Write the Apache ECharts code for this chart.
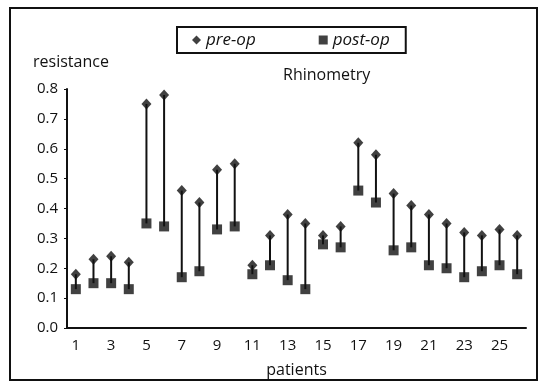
<!DOCTYPE html>
<html>
<head>
<meta charset="utf-8">
<script src="https://cdn.jsdelivr.net/npm/echarts@6/dist/echarts.min.js"></script>
<style>
  html, body { margin: 0; padding: 0; background: #fff; }
  #chart { width: 541px; height: 383px; }
</style>
</head>
<body>
<div id="chart"></div>
<script>
// patients 1..26
const patients = Array.from({ length: 26 }, (_, i) => String(i + 1))
const preOp = [0.18, 0.23, 0.24, 0.22, 0.75, 0.78, 0.46, 0.42, 0.53, 0.55, 0.21, 0.31, 0.38,
  0.35, 0.31, 0.34, 0.62, 0.58, 0.45, 0.41, 0.38, 0.35, 0.32, 0.31, 0.33, 0.31]
const postOp = [0.13, 0.15, 0.15, 0.13, 0.35, 0.34, 0.17, 0.19, 0.33, 0.34, 0.18, 0.21, 0.16,
  0.13, 0.28, 0.27, 0.46, 0.42, 0.26, 0.27, 0.21, 0.20, 0.17, 0.19, 0.21, 0.18]

const ink = '#111'
const font = 'Open Sans'

const chart = echarts.init(document.getElementById('chart'))

const option = {
  backgroundColor: '#fff',
  animation: false,
  textStyle: { fontFamily: font, color: ink },
  title: [
    {
      text: 'Rhinometry',
      left: 283,
      top: 67,
      padding: 0,
      textStyle: { fontFamily: font, fontSize: 16, fontWeight: 'normal', color: ink },
    },
    {
      text: 'resistance',
      left: 33,
      top: 54,
      padding: 0,
      textStyle: { fontFamily: font, fontSize: 16, fontWeight: 'normal', color: ink },
    },
  ],
  graphic: [
    {
      type: 'rect',
      shape: { x: 10, y: 8, width: 527, height: 372 },
      style: { fill: 'none', stroke: ink, lineWidth: 2 },
      silent: true,
    },
  ],
  legend: {
    left: 177,
    top: 27,
    padding: [3, 16, 3, 15],
    borderColor: ink,
    borderWidth: 2,
    itemWidth: 9,
    itemHeight: 9,
    itemGap: 63,
    data: [
      { name: 'pre-op', icon: 'diamond' },
      { name: 'post-op', icon: 'rect' },
    ],
    textStyle: { fontFamily: font, fontSize: 17, lineHeight: 20, fontStyle: 'italic', color: ink },
  },
  grid: { left: 67, right: 15, top: 89, bottom: 54 },
  xAxis: {
    type: 'category',
    data: patients,
    name: 'patients',
    nameLocation: 'middle',
    nameGap: 34,
    nameTextStyle: { fontFamily: font, fontSize: 16, color: ink },
    axisLine: { lineStyle: { color: ink, width: 2 } },
    axisTick: { inside: true, length: 3, interval: 0, lineStyle: { color: ink } },
    axisLabel: { interval: 1, margin: 10, fontFamily: font, fontSize: 15, color: ink },
    splitLine: { show: false },
  },
  yAxis: {
    type: 'value',
    min: 0,
    max: 0.8,
    interval: 0.1,
    axisLine: { show: true, lineStyle: { color: ink, width: 2 } },
    axisTick: { show: true, length: 3, lineStyle: { color: ink } },
    axisLabel: {
      margin: 9,
      fontFamily: font,
      fontSize: 15,
      color: ink,
      formatter: (v) => v.toFixed(1),
    },
    splitLine: { show: false },
  },
  series: [
    {
      name: 'change',
      type: 'custom',
      silent: true,
      data: patients.map((p, i) => [i, preOp[i], postOp[i]]),
      renderItem: function (params, api) {
        const a = api.coord([api.value(0), api.value(1)])
        const b = api.coord([api.value(0), api.value(2)])
        return {
          type: 'line',
          shape: { x1: a[0], y1: a[1], x2: b[0], y2: b[1] },
          style: { stroke: ink, lineWidth: 2 },
        }
      },
      z: 1,
    },
    {
      name: 'pre-op',
      type: 'scatter',
      data: preOp,
      symbol: 'diamond',
      symbolSize: [10, 11],
      itemStyle: { color: ink },
      z: 3,
    },
    {
      name: 'post-op',
      type: 'scatter',
      data: postOp,
      symbol: 'rect',
      symbolSize: 10,
      itemStyle: { color: ink },
      z: 3,
    },
  ],
}

chart.setOption(option)
</script>
</body>
</html>
